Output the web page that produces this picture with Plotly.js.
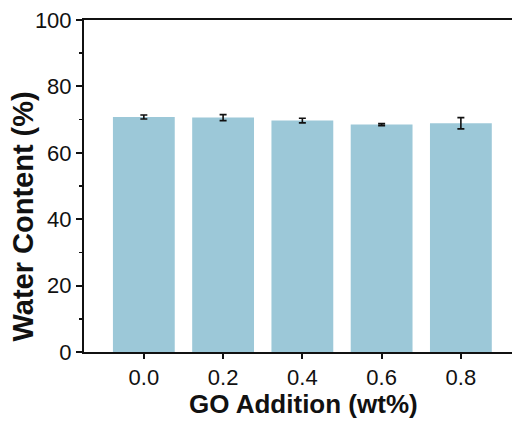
<!DOCTYPE html>
<html><head><meta charset="utf-8">
<script src="https://cdn.plot.ly/plotly-3.0.1.min.js"></script>
<style>html,body{margin:0;padding:0;background:#fff}</style>
</head><body><div id="chart" style="width:512px;height:421px"></div>
<script>
const goAddition = [0.0, 0.2, 0.4, 0.6, 0.8];
const tickLabels = ["0.0", "0.2", "0.4", "0.6", "0.8"];
const waterContent = [70.8, 70.6, 69.7, 68.5, 68.9];
const waterError = [0.6, 0.9, 0.7, 0.3, 1.7];
const xTitle = 'GO Addition (wt%)';
const yTitle = 'Water Content (%)';

const trace = {
  type: 'bar', x: goAddition, y: waterContent, width: 0.156,
  marker: {color: '#9cc8d8', line: {width: 0}},
  error_y: {type: 'data', array: waterError, visible: true, color: '#111', thickness: 1.6, width: 3.5}
};
const layout = {
  width: 512, height: 421,
  margin: {l: 84, r: 0, t: 20, b: 68.5},
  paper_bgcolor: '#fff', plot_bgcolor: '#fff',
  showlegend: false,
  font: {family: 'Liberation Sans, Arial, sans-serif', color: '#111'},
  xaxis: {
    range: [-0.151, 0.929], tickvals: goAddition, ticktext: tickLabels,
    showgrid: false, zeroline: false, showline: true, mirror: true, linecolor: '#111', linewidth: 2,
    ticks: 'outside', ticklen: 5, tickwidth: 2, tickcolor: '#111',
    tickfont: {size: 22, color: '#111'}
  },
  yaxis: {
    range: [0, 100], tickvals: [0, 20, 40, 60, 80, 100],
    showgrid: false, zeroline: false, showline: true, mirror: false, linecolor: '#111', linewidth: 2,
    ticks: 'outside', ticklen: 6, tickwidth: 2, tickcolor: '#111',
    minor: {dtick: 10, ticks: 'outside', ticklen: 3, tickwidth: 1.5, tickcolor: '#111', showgrid: false},
    tickfont: {size: 22, color: '#111'}
  },
  annotations: [
    {text: '<b>' + xTitle + '</b>', xref: 'paper', yref: 'paper', x: 0.512, y: -0.158,
     xanchor: 'center', yanchor: 'middle', showarrow: false, font: {size: 26, color: '#111'}},
    {text: '<b>' + yTitle + '</b>', xref: 'paper', yref: 'paper', x: (23 - 84) / 428, y: 0.408,
     xanchor: 'center', yanchor: 'middle', textangle: -90, showarrow: false, font: {size: 29, color: '#111'}}
  ]
};
Plotly.newPlot('chart', [trace], layout, {displayModeBar: false, staticPlot: true});
</script></body></html>
